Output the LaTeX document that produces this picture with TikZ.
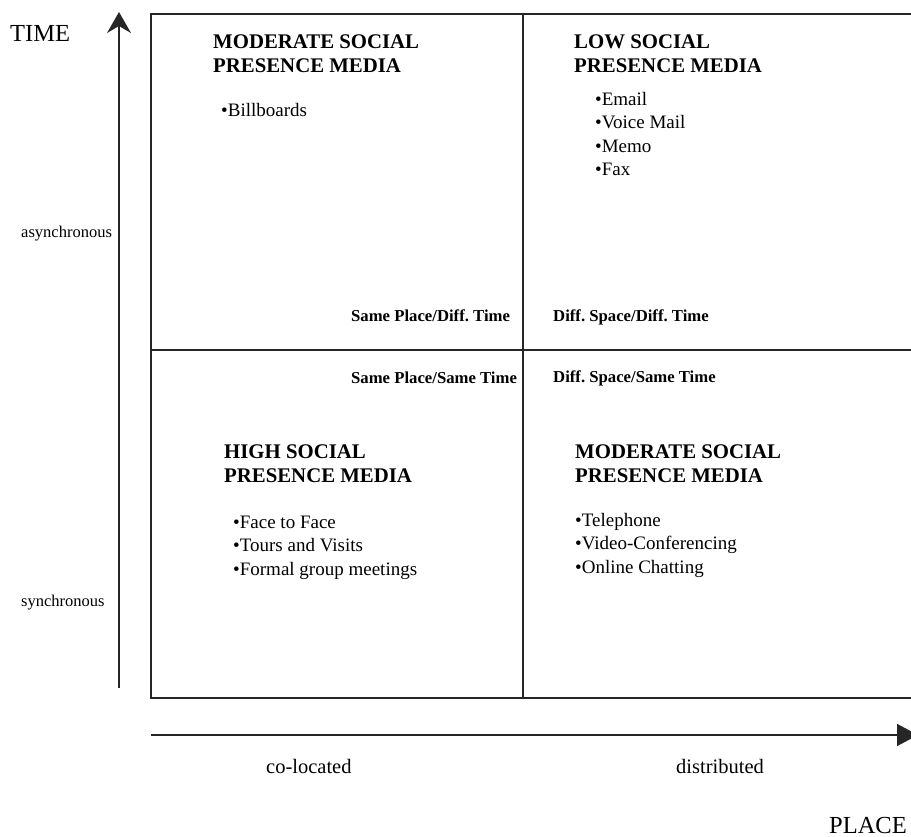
\documentclass[tikz,border=0pt]{standalone}
\usepackage{fontspec}
\setmainfont{Liberation Serif}
\usepackage{tikz}
\usetikzlibrary{arrows.meta, positioning}
\frenchspacing

\begin{document}
\begin{tikzpicture}[
    x=1pt, y=-1pt,
    grid line/.style={line width=1.6pt, draw=black!85},
    axis/.style={line width=1.6pt, draw=black!85},
    axis name/.style={font=\fontsize{24.5}{26}\selectfont, anchor=base west, inner sep=0pt},
    axis tick/.style={font=\fontsize{16.5}{18}\selectfont, anchor=base west, inner sep=0pt},
    place tick/.style={font=\fontsize{20.5}{22}\selectfont, anchor=base west, inner sep=0pt},
    heading/.style={font=\fontsize{20.8}{24}\selectfont\bfseries, align=left, anchor=base west, inner sep=0pt},
    media list/.style={font=\fontsize{19}{23.5}\selectfont, align=left, anchor=base west, inner sep=0pt},
    corner label/.style={font=\fontsize{16.7}{18}\selectfont\bfseries, anchor=base west, inner sep=0pt}
]
\useasboundingbox (0,0) rectangle (911,837);

% quadrant grid
\coordinate (nw) at (151,14);
\coordinate (se) at (935,698);
\coordinate (top mid) at (523,14);
\coordinate (bottom mid) at (523,698);
\coordinate (left mid) at (151,350);
\coordinate (right mid) at (935,350);
\draw[grid line] (nw) rectangle (se);
\draw[grid line] (top mid) -- (bottom mid);
\draw[grid line] (left mid) -- (right mid);

% axes
\coordinate (time start) at (119,688);
\coordinate (time end) at (119,12);
\coordinate (place start) at (151,735);
\coordinate (place end) at (918,735);
\draw[axis, -{Stealth[length=21pt, width=24pt, inset=7pt]}] (time start) -- (time end);
\draw[axis, -{Triangle[length=21pt, width=22pt]}] (place start) -- (place end);

\node[axis name] (time) at (10,42) {TIME};
\node[axis name] (place) at (829,833) {PLACE};
\node[axis tick] (async) at (21,238) {asynchronous};
\node[axis tick] (sync) at (21,606) {synchronous};
\node[place tick] (colocated) at (266,773) {co-located};
\node[place tick] (distributed) at (676,773) {distributed};

% quadrants (base = last line)
\node[heading] (moderate a) at (213,73) {MODERATE SOCIAL\\PRESENCE MEDIA};
\node[media list] (list a) at (221,117) {•Billboards};

\node[heading] (low) at (574,73) {LOW SOCIAL\\PRESENCE MEDIA};
\node[media list] (list b) at (595,176) {•Email\\•Voice Mail\\•Memo\\•Fax};

\node[heading] (high) at (224,482) {HIGH SOCIAL\\PRESENCE MEDIA};
\node[media list] (list c) at (233,575) {•Face to Face\\•Tours and Visits\\•Formal group meetings};

\node[heading] (moderate b) at (575,482) {MODERATE SOCIAL\\PRESENCE MEDIA};
\node[media list] (list d) at (575,573) {•Telephone\\•Video-Conferencing\\•Online Chatting};

\node[corner label] (spdt) at (351,322) {Same Place/Diff. Time};
\node[corner label] (spst) at (351,383) {Same Place/Same Time};
\node[corner label] (dsdt) at (553,322) {Diff. Space/Diff. Time};
\node[corner label] (dsst) at (553,382) {Diff. Space/Same Time};
\end{tikzpicture}
\end{document}
